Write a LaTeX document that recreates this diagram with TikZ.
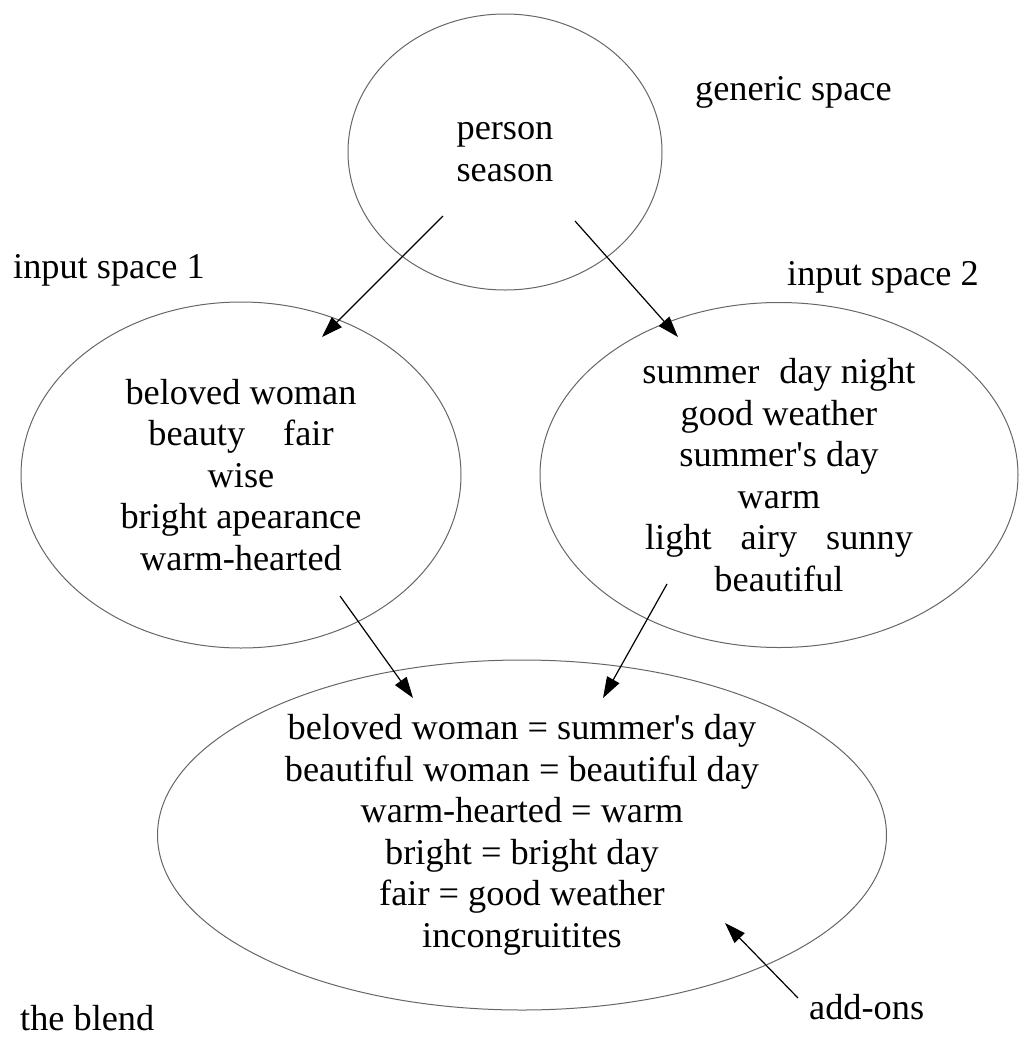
\documentclass[tikz,border=0pt]{standalone}
\usepackage{fontspec}
\setmainfont{Liberation Serif}
\usetikzlibrary{shapes.geometric,arrows.meta}

\begin{document}
\begin{tikzpicture}[x=1pt,y=-1pt,
  region/.style={ellipse,draw=black!60,line width=1pt,inner sep=0pt,align=center},
  tag/.style={anchor=base west,inner sep=0pt},
  maparrow/.style={line width=1.2pt,-{Triangle[length=21pt,width=14pt]}}]

\useasboundingbox (0,0) rectangle (1019,1037);
\fontsize{36.3}{41.5}\selectfont

% the four spaces
\node (generic) [region,minimum width=314pt,minimum height=276pt] at (505,152) {person\\season};
\node (inputone) [region,minimum width=440pt,minimum height=346pt] at (241,475)
  {beloved woman\\beauty\hspace{1.05em}fair\\wise\\bright apearance\\warm-hearted};
\node (inputtwo) [region,minimum width=478pt,minimum height=345pt] at (779,475)
  {summer\hspace{0.55em}day night\\good weather\\summer\textquotesingle s day\\warm\\light\hspace{0.8em}airy\hspace{0.8em}sunny\\beautiful};
\node (blend) [region,minimum width=729pt,minimum height=350pt] at (522,835)
  {beloved woman = summer\textquotesingle s day\\beautiful woman = beautiful day\\warm-hearted = warm\\bright = bright day\\fair = good weather\\incongruitites};

% labels
\node (genericlabel) [tag] at (695,100) {generic space};
\node (inputonelabel) [tag] at (13,278) {input space 1};
\node (inputtwolabel) [tag] at (787,285) {input space 2};
\node (blendlabel) [tag] at (20,1030) {the blend};
\node (addons) [tag] at (809,1019) {add-ons};

% arrow ends
\coordinate (g1) at (443,216);
\coordinate (i1top) at (322,337);
\coordinate (g2) at (575,221);
\coordinate (i2top) at (678,337);
\coordinate (i1) at (340,596);
\coordinate (b1) at (413,698);
\coordinate (i2) at (667,584);
\coordinate (b2) at (603,698);
\coordinate (addfrom) at (798,998);
\coordinate (addto) at (725,923);

\draw[maparrow] (g1)--(i1top);
\draw[maparrow] (g2)--(i2top);
\draw[maparrow] (i1)--(b1);
\draw[maparrow] (i2)--(b2);
\draw[maparrow] (addfrom)--(addto);

\end{tikzpicture}
\end{document}
